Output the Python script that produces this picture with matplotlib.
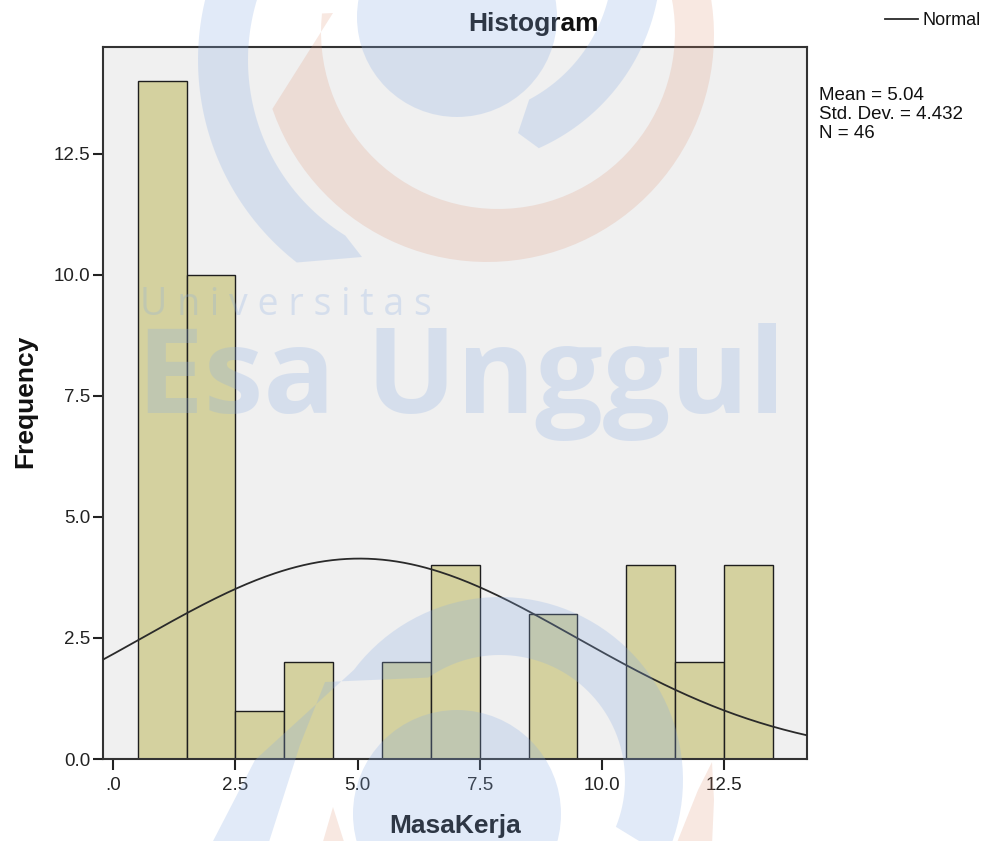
import numpy as np
import matplotlib.pyplot as plt
from matplotlib.patches import Circle, Polygon
from matplotlib.lines import Line2D

# histogram data (bin width 1.0)
bin_centers = [1, 2, 3, 4, 5, 6, 7, 8, 9, 10, 11, 12, 13]
counts = [14, 10, 1, 2, 0, 2, 4, 0, 3, 0, 4, 2, 4]

# stats printed beside the chart
mean = 5.04
std_dev = 4.432
n_cases = 46

x_ticks = [0, 2.5, 5.0, 7.5, 10.0, 12.5]
x_ticklabels = ['.0', '2.5', '5.0', '7.5', '10.0', '12.5']
y_ticks = [0, 2.5, 5.0, 7.5, 10.0, 12.5]
y_ticklabels = ['0.0', '2.5', '5.0', '7.5', '10.0', '12.5']

plt.rcParams['font.family'] = ['Liberation Sans', 'DejaVu Sans']

W, H = 984, 841
fig = plt.figure(figsize=(W / 100, H / 100), dpi=100)
fig.patch.set_facecolor('white')

ax = fig.add_axes([103 / W, 1 - 759 / H, (807 - 103) / W, (759 - 47) / H])
ax.set_facecolor('#f0f0f0')

# bars (empty bins skipped)
bx = [c for c, v in zip(bin_centers, counts) if v > 0]
by = [v for v in counts if v > 0]
ax.bar(bx, by, width=1.0, color='#d4d19f', edgecolor='#1e1e1e', linewidth=1.0, zorder=2)

# normal curve from mean / sd / N, scaled to the bin width
xs = np.linspace(-0.3, 14.3, 300)
ys = n_cases * 1.0 / (std_dev * np.sqrt(2 * np.pi)) * np.exp(-0.5 * ((xs - mean) / std_dev) ** 2)
ax.plot(xs, ys, color='#2a2a2a', lw=1.3, zorder=3)

ax.set_xlim(-0.21, 14.2)
ax.set_ylim(0, 14.71)
ax.set_xticks(x_ticks)
ax.set_xticklabels(x_ticklabels)
ax.set_yticks(y_ticks)
ax.set_yticklabels(y_ticklabels)
ax.tick_params(axis='x', direction='out', length=8, width=1.5, pad=5, labelsize=13.5, colors='#222222')
ax.tick_params(axis='y', direction='out', length=7, width=1.5, pad=2, labelsize=13.5, colors='#222222')
for s in ax.spines.values():
    s.set_color('#333333')
    s.set_linewidth(1.5)

# titles and labels
fig.text(533 / W, 1 - 24 / H, 'Histogram', ha='center', va='center', fontsize=19, fontweight='bold', color='#111111')
fig.text(455 / W, 1 - 826 / H, 'MasaKerja', ha='center', va='center', fontsize=19, fontweight='bold', color='#111111')
fig.text(25 / W, 1 - 401 / H, 'Frequency', ha='center', va='center', rotation=90, fontsize=19, fontweight='bold', color='#111111')

# legend and stats
fig.add_artist(Line2D([885 / W, 918 / W], [1 - 19 / H, 1 - 19 / H], color='#2a2a2a', lw=1.3))
fig.text(922 / W, 1 - 25 / H, 'Normal', ha='left', va='baseline', fontsize=13, color='#111111')
stats = ['Mean = %.2f' % mean, 'Std. Dev. = %.3f' % std_dev, 'N = %d' % n_cases]
for i, line in enumerate(stats):
    fig.text(819 / W, 1 - (100 + 19 * i) / H, line, ha='left', va='baseline', fontsize=13.5, color='#111111')


# ---- watermark (pixel coords, y down) ----
def arc(cx, cy, r, t0, t1, n=60):
    t = np.radians(np.linspace(t0, t1, n))
    return np.column_stack([cx + r * np.cos(t), cy + r * np.sin(t)])


wm = fig.add_axes([0, 0, 1, 1], zorder=10)
wm.set_xlim(0, W)
wm.set_ylim(H, 0)
wm.axis('off')
wm.patch.set_alpha(0)
blue = '#88ace4'
orange = '#dc8c6c'
a = 0.25
ao = 0.2

# top logo
wm.add_patch(Circle((457, 17), 100, color=blue, alpha=a, lw=0))
left_band = np.vstack([arc(455, 60, 257, 200, 128), [[362, 257]], arc(455, 60, 207, 122, 200)])
wm.add_patch(Polygon(left_band, color=blue, alpha=a, lw=0))
right_band = np.vstack([arc(455, -40, 206, 5, 66), [[518, 133]], arc(455, -40, 158, 62, 5)])
wm.add_patch(Polygon(right_band, color=blue, alpha=a, lw=0))
crescent = np.vstack([arc(487, 35, 227, -12, 161), [[333, 13]], arc(498, 32, 177, 186, -12)])
wm.add_patch(Polygon(crescent, color=orange, alpha=ao, lw=0))

# bottom logo
wm.add_patch(Circle((457, 814), 104, color=blue, alpha=a, lw=0))
spiral = np.vstack([[[211, 845]], [[255, 760]], arc(500, 780, 183, 217, 385),
                    arc(500, 780, 125, 382, 235), [[325, 682]], [[300, 745]], [[268, 845]]])
wm.add_patch(Polygon(spiral, color=blue, alpha=a, lw=0))
wm.add_patch(Polygon([(322, 845), (333, 807), (345, 845)], color=orange, alpha=ao, lw=0))
wm.add_patch(Polygon([(676, 845), (698, 790), (712, 762), (714, 800), (712, 845)], color=orange, alpha=ao, lw=0))

# watermark text
wm.text(140, 315, 'U n i v e r s i t a s', ha='left', va='baseline', fontsize=27,
        family='Open Sans', color=blue, alpha=a)
wm.text(137, 413, 'Esa Unggul', ha='left', va='baseline', fontsize=86,
        family='Open Sans', fontweight='bold', color=blue, alpha=a)

fig.savefig('out.png', dpi=100)
